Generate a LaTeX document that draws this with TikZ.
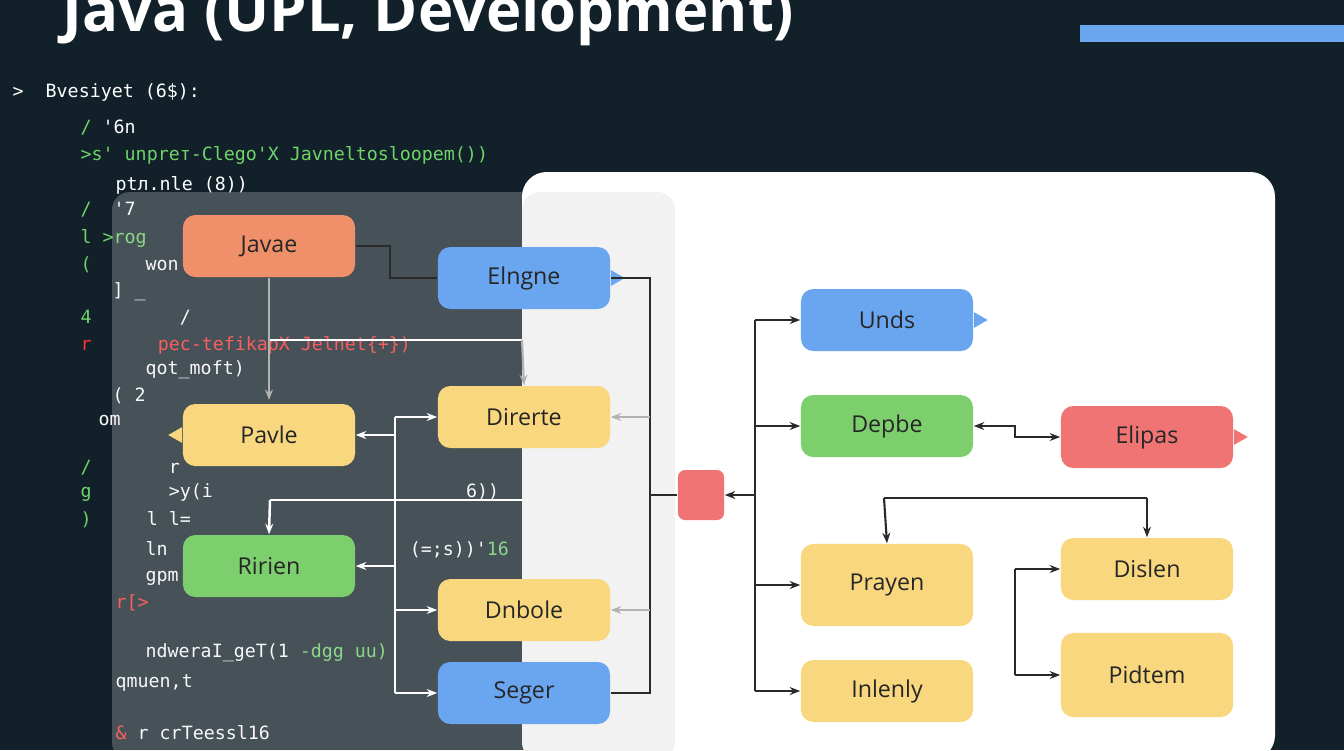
\documentclass[tikz,border=0pt]{standalone}
\usepackage{fontspec}
\setmainfont{Open Sans}
\newfontfamily\codefont{DejaVu Sans Mono}
\usetikzlibrary{arrows.meta}
\definecolor{bgdark}{HTML}{122029}
\definecolor{boxorange}{HTML}{F0906A}
\definecolor{boxblue}{HTML}{6AA6F0}
\definecolor{boxyellow}{HTML}{F8D77F}
\definecolor{boxgreen}{HTML}{7DCF6E}
\definecolor{boxred}{HTML}{F07474}
\definecolor{codegreen}{HTML}{6FD36A}
\definecolor{linedark}{HTML}{2A2A2A}
\tikzstyle{block} = [
 rectangle,
 rounded corners=3.5pt,
 minimum width=1.72cm,
 minimum height=0.62cm,
 align=center,
 font=\fontsize{6.6}{7}\selectfont,
 text=black!85
]
\tikzstyle{link} = [draw=linedark, line width=0.6pt, -{Stealth[length=3pt]}]
\tikzstyle{plain} = [draw=linedark, line width=0.6pt]
\tikzstyle{lightlink} = [draw=white, line width=0.7pt, -{Stealth[length=3pt]}]
\tikzstyle{greylink} = [draw=gray!60, line width=0.6pt, -{Stealth[length=3pt]}]
\tikzstyle{code} = [anchor=west, inner sep=0pt, font=\codefont\fontsize{5.2}{6}\selectfont, text=white!85]
\begin{document}
\begin{tikzpicture}[x=0.01cm, y=-0.01cm]
  \fill[bgdark] (0,0) rectangle (1344,750);
  \useasboundingbox (0,0) rectangle (1344,750);
  % title and bar
  \node[anchor=west, inner sep=0pt, text=white, font=\bfseries\fontsize{17}{17}\selectfont] (title) at (62,16) {Java (UPL, Development)};
  \fill[boxblue] (1080,25) rectangle (1344,42);
  % code lines
  \node[code] (c0) at (12,92) {> \ Bvesiyet (6\$):};
  \node[code, text=codegreen] (c1) at (80,128) {/ \textcolor{white}{'6n}};
  \node[code, text=codegreen] (c2) at (80,155) {>s' unpreт-Clego\textquotesingle X Javneltosloopem())};
  \node[code] (c3) at (115,185) {ptл.nle (8))};
  \node[code, text=codegreen] (c4) at (80,210) {/ \ \textcolor{white}{'7}};
  \node[code, text=codegreen] (c5) at (80,238) {l >rog};
  \node[code, text=codegreen] (c5b) at (80,265) {(};
  \node[code] (c6) at (145,265) {won};
  \node[code] (c7) at (112,292) {] \_};
  \node[code] (c7b) at (80,318) {\textcolor{codegreen}{4} \ \ \ \ \ \ \ /};
  \node[code, text=red!80] (c8) at (80,345) {r \ \ \ \ \ pec-tefikapX Jelnet\{+\})};
  \node[code] (c9) at (145,370) {qot\_moft)};
  \node[code] (c10) at (112,396) {( 2};
  \node[code] (c11) at (98,420) {om};
  \node[code, text=codegreen] (c11b) at (80,468) {/ \ \ \ \ \ \ \textcolor{white}{r}};
  \node[code, text=codegreen] (c12) at (80,492) {g \ \ \ \ \ \ \textcolor{white}{>y(i \ \ \ \ \ \ \ \ \ \ \ \ \ \ \ \ \ \ \ \ \ \ 6))}};
  \node[code, text=codegreen] (c12b) at (80,520) {) \ \ \ \ \textcolor{white}{l l=}};
  \node[code] (c13) at (145,550) {ln \ \ \ \ \ \ \ \ \ \ \ \ \ \ \ \ \ \ \ \ \ (=;s))'\textcolor{codegreen}{16}};
  \node[code] (c14) at (145,578) {gpm};
  \node[code, text=red!80] (c15) at (115,603) {r[>};
  \node[code, text=codegreen] (c16) at (145,653) {\textcolor{white}{ndweraI\_geT(1} -dgg uu)};
  \node[code] (c17) at (115,683) {qmuen,t};
  \node[code, text=red!80] (c18) at (115,733) {\& \textcolor{white}{r crTeessl16}};
  % panels
  \fill[white!80!gray, opacity=0.25, rounded corners=5pt] (112,192) rectangle (675,760);
  \fill[white, rounded corners=7pt] (522,172) rectangle (1275,760);
  \fill[white!90!gray, rounded corners=5pt] (522,192) rectangle (675,760);
  % nodes
  \node[block, fill=boxorange] (javae) at (269,246) {Javae};
  \node[block, fill=boxblue] (elngne) at (524,278) {Elngne};
  \node[block, fill=boxyellow] (direrte) at (524,417) {Direrte};
  \node[block, fill=boxyellow] (pavle) at (269,435) {Pavle};
  \node[block, fill=boxgreen] (ririen) at (269,566) {Ririen};
  \node[block, fill=boxyellow] (dnbole) at (524,610) {Dnbole};
  \node[block, fill=boxblue] (seger) at (524,693) {Seger};
  \node[rectangle, rounded corners=2pt, fill=boxred, minimum width=0.46cm, minimum height=0.5cm] (hub) at (701,495) {};
  \node[block, fill=boxblue] (unds) at (887,320) {Unds};
  \node[block, fill=boxgreen] (depbe) at (887,426) {Depbe};
  \node[block, fill=boxred] (elipas) at (1147,437) {Elipas};
  \node[block, fill=boxyellow, minimum height=0.82cm] (prayen) at (887,585) {Prayen};
  \node[block, fill=boxyellow] (inlenly) at (887,691) {Inlenly};
  \node[block, fill=boxyellow] (dislen) at (1147,569) {Dislen};
  \node[block, fill=boxyellow, minimum height=0.84cm] (pidtem) at (1147,675) {Pidtem};
  % tails
  \fill[boxblue] (unds.east) ++(0,-8) -- ++(14,8) -- ++(-14,8) -- cycle;
  \fill[boxred] (elipas.east) ++(0,-8) -- ++(14,8) -- ++(-14,8) -- cycle;
  \fill[boxyellow] (pavle.west) ++(0,-8) -- ++(-14,8) -- ++(14,8) -- cycle;
  \fill[boxblue] (elngne.east) ++(0,-8) -- ++(14,8) -- ++(-14,8) -- cycle;
  % connectors, left part
  \coordinate (ja) at (390,246);
  \coordinate (jb) at (390,278);
  \draw[plain] (javae.east) -- (ja) -- (jb) -- (elngne.west);
  \coordinate (ea) at (650,278);
  \coordinate (eb) at (650,693);
  \draw[plain] (elngne.east) -- (ea) -- (eb) -- (seger.east);
  \coordinate (eh) at (650,495);
  \draw[plain] (eh) -- (hub.west);
  \draw[greylink] (650,417) -- (direrte.east);
  \draw[greylink] (650,610) -- (dnbole.east);
  \coordinate (va) at (395,417);
  \coordinate (vb) at (395,693);
  \draw[draw=white, line width=0.7pt] (va) -- (vb);
  \draw[lightlink] (va) -- (direrte.west);
  \draw[lightlink] (vb) -- (seger.west);
  \draw[lightlink] (395,610) -- (dnbole.west);
  \draw[lightlink] (395,435) -- (pavle.east);
  \draw[lightlink] (395,566) -- (ririen.east);
  \coordinate (ha) at (270,340);
  \coordinate (hb) at (522,340);
  \draw[draw=white, line width=0.7pt] (ha) -- (hb);
  \draw[greylink] (javae.south) -- (269,400);
  \draw[greylink] (hb) -- (direrte.north);
  \coordinate (la) at (270,500);
  \coordinate (lb) at (522,500);
  \draw[draw=white, line width=0.7pt] (la) -- (lb);
  \draw[lightlink] (la) -- (ririen.north);
  % connectors, right part
  \coordinate (ra) at (755,320);
  \coordinate (rb) at (755,691);
  \draw[plain] (ra) -- (rb);
  \draw[link] (ra) -- (unds.west);
  \draw[link] (755,426) -- (depbe.west);
  \draw[link] (755,585) -- (prayen.west);
  \draw[link] (rb) -- (inlenly.west);
  \draw[link] (755,495) -- (hub.east);
  \coordinate (da) at (1015,426);
  \coordinate (db) at (1015,437);
  \draw[link, {Stealth[length=3pt]}-{Stealth[length=3pt]}] (depbe.east) -- (da) -- (db) -- (elipas.west);
  \coordinate (ta) at (884,498);
  \coordinate (tb) at (1147,498);
  \draw[plain] (ta) -- (tb);
  \draw[link] (ta) -- (prayen.north);
  \draw[link] (tb) -- (dislen.north);
  \coordinate (sa) at (1015,569);
  \coordinate (sb) at (1015,675);
  \draw[plain] (sa) -- (sb);
  \draw[link] (sa) -- (dislen.west);
  \draw[link] (sb) -- (pidtem.west);
\end{tikzpicture}
\end{document}
